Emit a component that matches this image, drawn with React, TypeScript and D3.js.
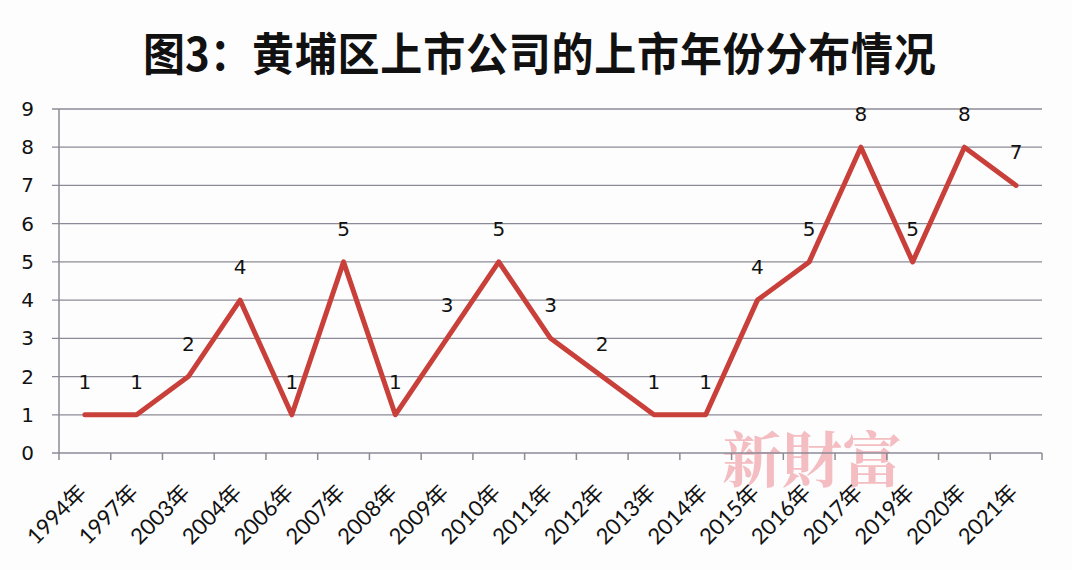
import React from "react";
import * as d3 from "d3";

const categories = ["1994年","1997年","2003年","2004年","2006年","2007年","2008年","2009年","2010年","2011年","2012年","2013年","2014年","2015年","2016年","2017年","2019年","2020年","2021年"];
const values = [1,1,2,4,1,5,1,3,5,3,2,1,1,4,5,8,5,8,7];
const yTicks = [0,1,2,3,4,5,6,7,8,9];
const titleHead = "图3：";
const titleBody = "黄埔区上市公司的上市年份分布情况";
const watermark = "新財富";

const W = 1072, H = 570;
const left = 59, right = 1042, top = 109, bottom = 453;

export default function App() {
  const x = d3.scaleBand<string>().domain(categories).range([left, right]).padding(0);
  const y = d3.scaleLinear().domain([0, 9]).range([bottom, top]);
  const cx = (c: string) => (x(c) as number) + x.bandwidth() / 2;
  const line = d3.line<number>().x((_, i) => cx(categories[i])).y(d => y(d));
  const gridColor = "#8c8a96";
  const font = "'DejaVu Sans', 'Noto Sans CJK SC', sans-serif";
  const labelFont = "Lato, 'Noto Sans CJK SC', sans-serif";
  const titleFont = "'Noto Sans CJK SC', sans-serif";
  return (
    <svg width={W} height={H} style={{ position: "absolute", left: 0, top: 0, background: "#fdfdfe" }}>
      <g transform="translate(0,71) scale(1,1.08)">
        <text x={143} y={0} fontFamily={titleFont} fontWeight="bold" fontSize={42} fill="#111">{titleHead}</text>
        <text x={252} y={0} fontFamily={titleFont} fontWeight="bold" fontSize={42} letterSpacing={0.8} fill="#111">{titleBody}</text>
      </g>
      <text x={812} y={482} textAnchor="middle" fontFamily="'Noto Serif CJK SC','Noto Sans CJK SC', serif" fontWeight="bold" fontSize={60} fill="#f0a8ae" opacity={0.75}>{watermark}</text>
      {yTicks.map(t => (
        <g key={t}>
          <line x1={52} x2={right} y1={y(t)} y2={y(t)} stroke={gridColor} strokeWidth={1.3} />
          <text x={34} y={y(t) + 7} textAnchor="end" fontFamily={font} fontSize={20} fill="#111">{t}</text>
        </g>
      ))}
      <line x1={left} x2={left} y1={top} y2={bottom + 7} stroke={gridColor} strokeWidth={1.5} />
      {categories.map((c, i) => (
        <line key={"t" + i} x1={(x(c) as number) + x.bandwidth()} x2={(x(c) as number) + x.bandwidth()} y1={bottom} y2={bottom + 7} stroke={gridColor} strokeWidth={1.5} />
      ))}
      {categories.map(c => (
        <text key={c} transform={`translate(${cx(c) + 3},${494}) rotate(-45)`} textAnchor="end" fontFamily={labelFont} fontSize={22} fill="#111">{c}</text>
      ))}
      <path d={line(values) || ""} fill="none" stroke="#c9403a" strokeWidth={5} strokeLinejoin="round" strokeLinecap="round" />
      {values.map((v, i) => (
        <text key={"v" + i} x={cx(categories[i])} y={y(v) - 26} textAnchor="middle" fontFamily={font} fontSize={20} fill="#111">{v}</text>
      ))}
    </svg>
  );
}
